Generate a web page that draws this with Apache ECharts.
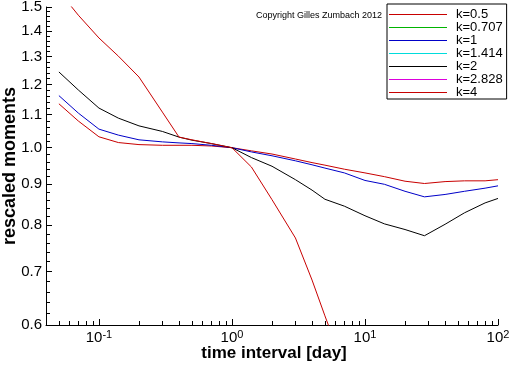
<!DOCTYPE html>
<html><head><meta charset="utf-8">
<script src="https://cdn.jsdelivr.net/npm/echarts@6/dist/echarts.min.js"></script>
<style>html,body{margin:0;padding:0;background:#fff}#c{width:512px;height:366px}</style>
</head><body><div id="c"></div>
<script>
// time interval [day]
const timeInterval = [0.05, 0.07, 0.1, 0.14, 0.2, 0.3, 0.4, 0.5, 0.7, 1, 1.4, 2, 3, 4, 5, 7, 10, 14, 20, 28, 40, 56, 80, 100];
// rescaled moments per k (k=0.707, 1.414, 2.828 have no visible curve in the picture)
const k0_5   = [1.135, 1.08, 1.032, 1.015, 1.009, 1.007, 1.007, 1.007, 1.005, 1.0, 0.991, 0.982, 0.968, 0.958, 0.951, 0.94, 0.93, 0.92, 0.908, 0.902, 0.907, 0.909, 0.909, 0.912];
const k0_707 = [];
const k1     = [1.162, 1.105, 1.055, 1.037, 1.023, 1.017, 1.014, 1.012, 1.007, 1.0, 0.988, 0.977, 0.963, 0.952, 0.943, 0.93, 0.91, 0.9, 0.882, 0.868, 0.874, 0.882, 0.89, 0.896];
const k1_414 = [];
const k2     = [1.244, 1.181, 1.121, 1.089, 1.065, 1.048, 1.031, 1.022, 1.012, 1.0, 0.972, 0.948, 0.912, 0.885, 0.862, 0.845, 0.822, 0.803, 0.79, 0.776, 0.802, 0.829, 0.853, 0.864];
const k2_828 = [];
const k4     = [1.57, 1.465, 1.372, 1.302, 1.226, 1.108, 1.031, 1.023, 1.012, 1.0, 0.946, 0.861, 0.771, 0.683, 0.616, 0.53];

const seriesNames  = ['k=0.5', 'k=0.707', 'k=1', 'k=1.414', 'k=2', 'k=2.828', 'k=4'];
const seriesValues = [k0_5, k0_707, k1, k1_414, k2, k2_828, k4];
const seriesColors = ['#c80000', '#00b400', '#0000c8', '#00dcdc', '#000000', '#dc00dc', '#c80000'];

// axis ranges (data units)
const xRange = [0.04, 100];
const yRange = [0.6, 1.5];
const xLabelTicks = [0.1, 1, 10, 100];
const xLabelExp   = ['-1', '0', '1', '2'];
const xMinorTicks = [0.05, 0.06, 0.07, 0.08, 0.09, 0.2, 0.3, 0.4, 0.5, 0.6, 0.7, 0.8, 0.9, 2, 3, 4, 5, 6, 7, 8, 9, 20, 30, 40, 50, 60, 70, 80, 90];
const yLabelTicks = [0.6, 0.7, 0.8, 0.9, 1.0, 1.1, 1.2, 1.3, 1.4, 1.5];
const yMinorTicks = [0.62, 0.64, 0.66, 0.68, 0.72, 0.74, 0.76, 0.78, 0.82, 0.84, 0.86, 0.88, 0.92, 0.94, 0.96, 0.98,
  1.02, 1.04, 1.06, 1.08, 1.12, 1.14, 1.16, 1.18, 1.22, 1.24, 1.26, 1.28, 1.32, 1.34, 1.36, 1.38, 1.42, 1.44, 1.46, 1.48];

// both axes are logarithmic: a linear ECharts value scale over log10 of the values,
// measured from the lower end of each range (so the axis starts at 0)
const X = v => Math.log10(v) - Math.log10(xRange[0]);
const Y = v => Math.log10(v) - Math.log10(yRange[0]);
const FONT = '"Liberation Sans", Arial, Helvetica, sans-serif';
const chart = echarts.init(document.getElementById('c'), null, {renderer: 'canvas'});

const series = seriesNames.map((name, i) => {
  const vals = seriesValues[i];
  // a series without values gets one empty (null) entry so that it still owns a legend colour
  const data = vals.length ? vals.map((v, j) => [X(timeInterval[j]), Y(v)]) : [[null, null]];
  return {
    name: name,
    type: 'line',
    xAxisIndex: 0,
    yAxisIndex: 0,
    data: data,
    showSymbol: false,
    symbol: 'none',
    clip: true,
    color: seriesColors[i],
    lineStyle: {color: seriesColors[i], width: 1},
    itemStyle: {color: seriesColors[i]},
    emphasis: {disabled: true},
    z: 2 + i
  };
});

function nearestIndex(arr, f, v) {
  let best = -1, bd = 1e9;
  arr.forEach((t, i) => { const d = Math.abs(f(t) - v); if (d < bd) { bd = d; best = i; } });
  return best;
}

const option = {
  animation: false,
  backgroundColor: '#fff',
  textStyle: {fontFamily: FONT},
  grid: {left: 46, right: 14, top: 7, bottom: 41, containLabel: false, outerBoundsMode: 'none'},
  xAxis: [
    {
      type: 'value', min: 0, max: X(xRange[1]), scale: true,
      axisLine: {show: true, onZero: false, lineStyle: {color: '#000', width: 1}},
      axisTick: {show: true, inside: true, length: 6, customValues: xLabelTicks.map(X), lineStyle: {color: '#000'}},
      minorTick: {show: false},
      splitLine: {show: false},
      axisLabel: {
        show: true, margin: 4, customValues: xLabelTicks.map(X), color: '#000',
        formatter: function (v) {
          const idx = nearestIndex(xLabelTicks, X, v);
          return '{b|10}{s|' + xLabelExp[idx] + '}';
        },
        rich: {
          b: {fontFamily: FONT, fontSize: 15, color: '#000', lineHeight: 17},
          s: {fontFamily: FONT, fontSize: 11, color: '#000', verticalAlign: 'top', lineHeight: 11}
        }
      }
    },
    {
      type: 'value', min: 0, max: X(xRange[1]), scale: true, position: 'bottom', gridIndex: 0,
      axisLine: {show: false, onZero: false},
      axisTick: {show: true, inside: true, length: 4, customValues: xMinorTicks.map(X), lineStyle: {color: '#000'}},
      axisLabel: {show: false},
      splitLine: {show: false}
    }
  ],
  yAxis: [
    {
      type: 'value', min: 0, max: Y(yRange[1]), scale: true,
      axisLine: {show: true, onZero: false, lineStyle: {color: '#000', width: 1}},
      axisTick: {show: true, inside: true, length: 6, customValues: yLabelTicks.map(Y), lineStyle: {color: '#000'}},
      splitLine: {show: false},
      axisLabel: {
        show: true, margin: 4, customValues: yLabelTicks.map(Y), color: '#000',
        fontFamily: FONT, fontSize: 15,
        formatter: v => yLabelTicks[nearestIndex(yLabelTicks, Y, v)].toFixed(1)
      }
    },
    {
      type: 'value', min: 0, max: Y(yRange[1]), scale: true, position: 'left', gridIndex: 0,
      axisLine: {show: false, onZero: false},
      axisTick: {show: true, inside: true, length: 4, customValues: yMinorTicks.map(Y), lineStyle: {color: '#000'}},
      axisLabel: {show: false},
      splitLine: {show: false}
    }
  ],
  legend: {
    show: true, orient: 'vertical', left: 387, top: 4,
    padding: [4, 4, 0, 2],
    icon: 'rect',
    itemWidth: 58, itemHeight: 1, itemGap: 0,
    borderColor: '#000', borderWidth: 1, backgroundColor: '#fff',
    selectedMode: false,
    textStyle: {fontFamily: FONT, fontSize: 13, color: '#000', padding: [0, 0, 0, 4], lineHeight: 13},
    data: seriesNames.map((n, i) => ({
      name: n,
      inactiveColor: seriesColors[i],
      inactiveBorderColor: seriesColors[i],
      inactiveBorderWidth: 0,
      itemStyle: {color: seriesColors[i], borderColor: seriesColors[i], borderWidth: 0},
      lineStyle: {color: seriesColors[i], width: 1, inactiveColor: seriesColors[i], inactiveWidth: 1},
      textStyle: {color: '#000'}
    }))
  },
  graphic: [
    {
      type: 'text', left: 256, top: 11,
      style: {text: 'Copyright Gilles Zumbach 2012', fontFamily: FONT, fontSize: 9, fill: '#000'}
    },
    {
      type: 'text', x: 274, y: 353,
      style: {text: 'time interval [day]', fontFamily: FONT, fontSize: 17, fontWeight: 'bold', fill: '#000',
              align: 'center', verticalAlign: 'middle'}
    },
    {
      type: 'text', x: 10, y: 166, rotation: Math.PI / 2,
      style: {text: 'rescaled moments', fontFamily: FONT, fontSize: 18, fontWeight: 'bold', fill: '#000',
              align: 'center', verticalAlign: 'middle'}
    }
  ],
  series: series
};
chart.setOption(option);
</script>
</body></html>
